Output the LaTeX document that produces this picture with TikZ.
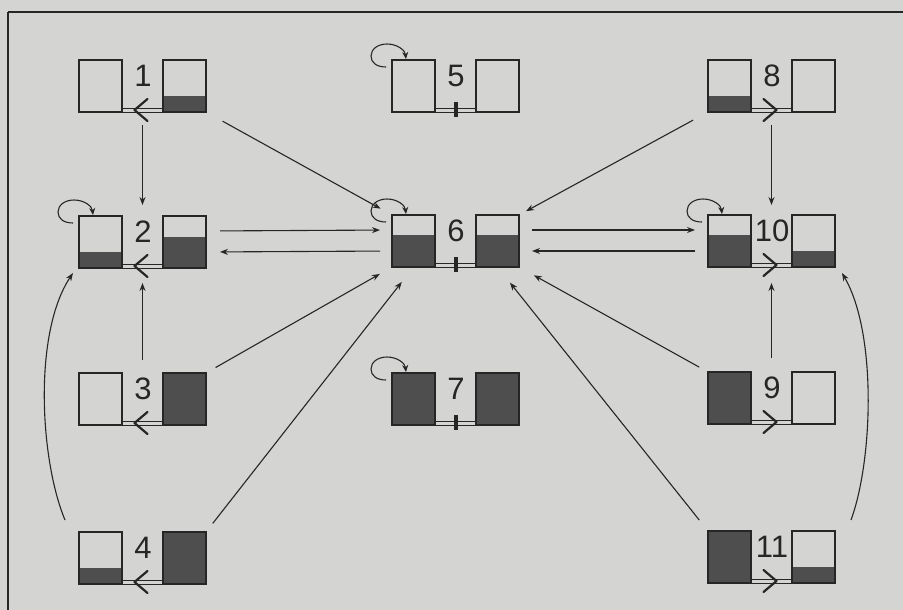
\documentclass[tikz,border=0pt]{standalone}
\usepackage{fontspec}
\setmainfont{Liberation Sans}
\usetikzlibrary{calc,arrows.meta}
\definecolor{paper}{HTML}{D4D4D2}
\definecolor{ink}{HTML}{262626}
\definecolor{liquid}{HTML}{4E4E4E}
\tikzset{
  stateframe/.style={minimum width=127pt,minimum height=52pt,inner sep=0pt,outer sep=0pt,anchor=north west},
  tank/.style={draw=ink,line width=1.4pt,minimum width=43pt,minimum height=52pt,
    inner sep=0pt,outer sep=0pt,anchor=north west,
    path picture={\fill[liquid] (path picture bounding box.south west) rectangle
      ($(path picture bounding box.south east)!#1!(path picture bounding box.north east)$);}},
  pipe/.style={draw=ink,line width=0.9pt},
  chev/.style={draw=ink,line width=2.2pt,line cap=round,line join=round},
  valvebar/.style={draw=ink,line width=3.4pt},
  conn/.style={draw=ink,line width=1.1pt,-{Stealth[length=8pt,width=6pt]}},
  loopc/.style={draw=ink,line width=1.1pt,-{Stealth[length=7pt,width=6pt]}},
  numlabel/.style={font=\fontsize{31}{31}\selectfont,text=ink,inner sep=0pt},
  pics/chevleft/.style={code={\draw[chev] (6.5,-11) -- (-6.5,0) -- (6.5,11);}},
  pics/chevright/.style={code={\draw[chev] (-6.5,-11) -- (6.5,0) -- (-6.5,11);}},
  pics/valve/.style={code={\draw[valvebar] (2,-8) -- (2,7);}},
}
% #1 id, #2 x, #3 y, #4 left level, #5 right level, #6 number, #7 pipe symbol
\newcommand{\tankstate}[7]{%
  \node[stateframe] (s#1) at (#2,#3) {};
  \node[tank=#4] (s#1l) at (#2,#3) {};
  \node[tank=#5] (s#1r) at (#2+84,#3) {};
  \node[numlabel] (s#1n) at (#2+64,#3+16) {#6};
  \draw[pipe] (s#1l.south east) -- (s#1r.south west);
  \draw[pipe] ([yshift=4pt]s#1l.south east) -- ([yshift=4pt]s#1r.south west);
  \pic at (#2+62,#3+50) {#7};
}
% round self loop entering the top of a tank
\newcommand{\selfloop}[1]{%
  \draw[loopc] ($(#1.north west)+(-6,7)$)
    .. controls +(-9,0) and +(0,7) .. ($(#1.north west)+(-21,-4)$)
    .. controls +(0,-7) and +(-9,0) .. ($(#1.north west)+(-5,-16)$)
    .. controls +(10,0) and +(-1,-9) .. ($(#1.north west)+(14,-1)$);}
\begin{document}
\begin{tikzpicture}[x=1pt,y=-1pt]
  \fill[paper] (0,0) rectangle (903,610);
  \useasboundingbox (0,0) rectangle (903,610);
  % frame
  \draw[ink,line width=2.5pt] (8,12) -- (903,12);
  \draw[ink,line width=1.6pt] (8,12) -- (8,610);

  % states
  \tankstate{1}{79}{60}{0}{0.31}{1}{chevleft}
  \tankstate{2}{79}{216}{0.31}{0.6}{2}{chevleft}
  \tankstate{3}{79}{373}{0}{1}{3}{chevleft}
  \tankstate{4}{79}{532}{0.3}{1}{4}{chevleft}
  \tankstate{5}{392}{60}{0}{0}{5}{valve}
  \tankstate{6}{392}{215}{0.62}{0.62}{6}{valve}
  \tankstate{7}{392}{373}{1}{1}{7}{valve}
  \tankstate{8}{708}{60}{0.31}{0}{8}{chevright}
  \tankstate{10}{708}{215}{0.62}{0.31}{10}{chevright}
  \tankstate{9}{708}{372}{1}{0}{9}{chevright}
  \tankstate{11}{708}{531}{1}{0.3}{11}{chevright}

  % self loops
  \selfloop{s2l}
  \selfloop{s5l}
  \selfloop{s6l}
  \selfloop{s7l}
  \selfloop{s10l}

  % vertical transitions
  \draw[conn,shorten <=13pt,shorten >=11pt] (s1.south) -- (s2.north);
  \draw[conn,shorten <=13pt,shorten >=15pt] (s3.north) -- (s2.south);
  \draw[conn,shorten <=13pt,shorten >=10pt] (s8.south) -- (s10.north);
  \draw[conn,shorten <=14pt,shorten >=16pt] (s9.north) -- (s10.south);

  % horizontal transitions
  \draw[conn,shorten <=14pt,shorten >=12pt] ([yshift=11pt]s2.east) -- ([yshift=11pt]s6.west);
  \draw[conn,shorten <=12pt,shorten >=14pt] ([yshift=-10pt]s6.west) -- ([yshift=-10pt]s2.east);
  \draw[conn,shorten <=13pt,shorten >=13pt] ([yshift=11pt]s6.east) -- ([yshift=11pt]s10.west);
  \draw[conn,shorten <=13pt,shorten >=13pt] ([yshift=-10pt]s10.west) -- ([yshift=-10pt]s6.east);

  % diagonal transitions into state 6
  \draw[conn,shorten <=19pt,shorten >=13pt] (s1.south east) -- (s6.north west);
  \draw[conn,shorten <=17pt,shorten >=8pt] (s8.south west) -- (s6.north east);
  \draw[conn,shorten <=11pt,shorten >=14pt] (s3.north east) -- (s6.south west);
  \draw[conn,shorten <=10pt,shorten >=17pt] (s9.north west) -- (s6.south east);
  \draw[conn,shorten <=11pt,shorten >=19pt] (s4.north east) -- (s6l.south);
  \draw[conn,shorten <=14pt,shorten >=20pt] (s11.north west) -- (s6r.south);

  % curved transitions
  \draw[conn] ($(s4.north west)+(-14,-12)$) .. controls +(-25,-60) and +(-40,60) .. ($(s2.south west)+(-6,5)$);
  \draw[conn] ($(s11.north east)+(16,-11)$) .. controls +(22,-60) and +(35,60) .. ($(s10.south east)+(7,6)$);
\end{tikzpicture}
\end{document}
